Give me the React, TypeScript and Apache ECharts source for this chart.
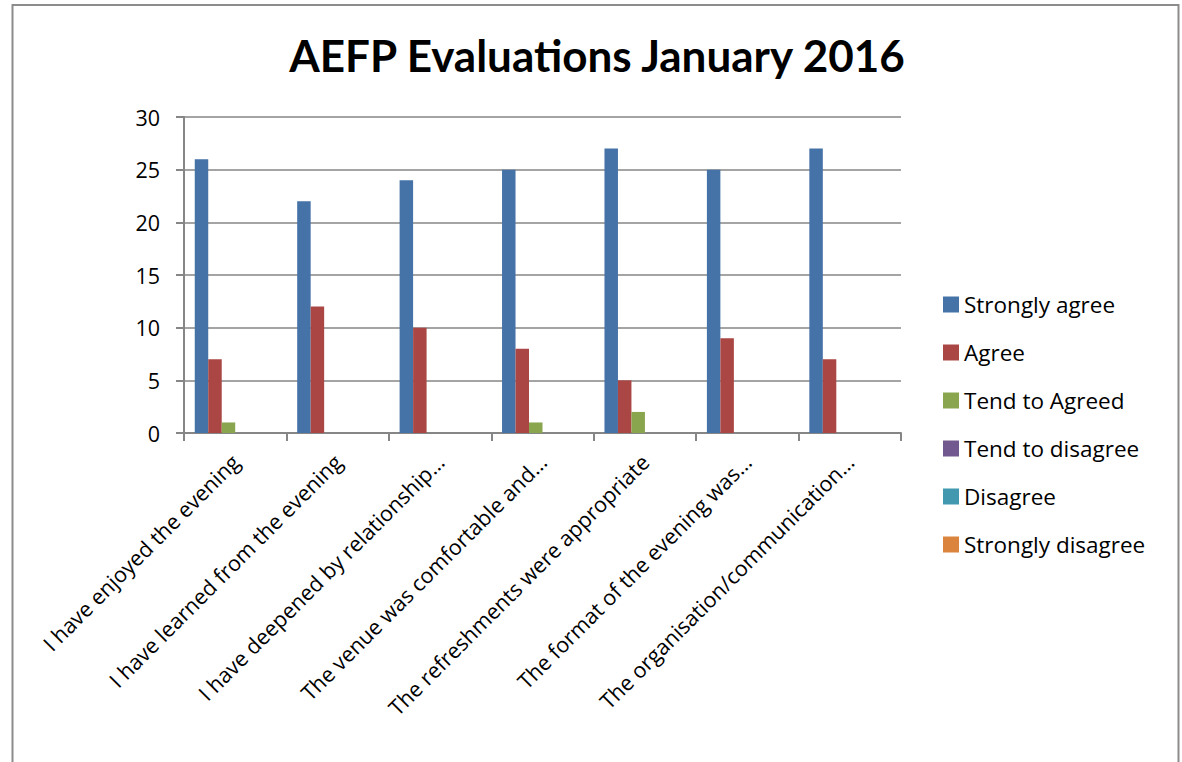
import React, { useEffect, useRef } from "react";
import * as echarts from "echarts";

const categories = [
  "I have enjoyed the evening",
  "I have learned from the evening",
  "I have deepened by relationship…",
  "The venue was comfortable and…",
  "The refreshments were appropriate",
  "The format of the evening was…",
  "The organisation/communication…",
];

const seriesNames = [
  "Strongly agree",
  "Agree",
  "Tend to Agreed",
  "Tend to disagree",
  "Disagree",
  "Strongly disagree",
];

const stronglyAgree = [26, 22, 24, 25, 27, 25, 27];
const agree = [7, 12, 10, 8, 5, 9, 7];
const tendToAgree = [1, 0, 0, 1, 2, 0, 0];
const tendToDisagree = [0, 0, 0, 0, 0, 0, 0];
const disagree = [0, 0, 0, 0, 0, 0, 0];
const stronglyDisagree = [0, 0, 0, 0, 0, 0, 0];

const seriesValues = [stronglyAgree, agree, tendToAgree, tendToDisagree, disagree, stronglyDisagree];
const colors = ["#4572A7", "#AA4643", "#89A54E", "#71588F", "#4198AF", "#DB843D"];

const FONT = "Open Sans";

export default function App() {
  const ref = useRef<HTMLDivElement>(null);
  useEffect(() => {
    if (!ref.current) return;
    const chart = echarts.init(ref.current, undefined, { renderer: "svg" });
    chart.setOption({
      animation: false,
      backgroundColor: "#ffffff",
      title: {
        text: "AEFP Evaluations January 2016",
        left: 592,
        textAlign: "center",
        top: 28,
        textStyle: { fontFamily: "Lato", fontWeight: "bold", fontSize: 44, color: "#000" },
      },
      graphic: [
        {
          type: "rect",
          shape: { x: 12.5, y: 5, width: 1166, height: 820 },
          style: { fill: "none", stroke: "#8c8c8c", lineWidth: 2 },
          silent: true,
        },
      ],
      legend: {
        orient: "vertical",
        left: 943,
        top: 293,
        padding: 0,
        itemWidth: 16,
        itemHeight: 16,
        itemGap: 25,
        icon: "rect",
        textStyle: { fontFamily: FONT, fontSize: 22.5, color: "#000", lineHeight: 20 },
        data: seriesNames,
      },
      grid: { left: 184, right: 281, top: 117, bottom: 329, containLabel: false },
      xAxis: {
        type: "category",
        data: categories,
        axisLine: { show: true, lineStyle: { color: "#868686", width: 2 } },
        axisTick: { show: true, length: 8, lineStyle: { color: "#868686", width: 2 } },
        axisLabel: {
          rotate: 45,
          interval: 0,
          margin: 25,
          fontFamily: FONT,
          fontSize: 21.5,
          color: "#000",
        },
      },
      yAxis: {
        type: "value",
        min: 0,
        max: 30,
        interval: 5,
        axisLine: { show: true, lineStyle: { color: "#868686", width: 2 } },
        axisTick: { show: true, length: 8, lineStyle: { color: "#868686", width: 2 } },
        splitLine: { show: true, lineStyle: { color: "#868686", width: 1.5 } },
        axisLabel: { margin: 24, fontFamily: FONT, fontSize: 21.5, color: "#000" },
      },
      series: seriesNames.map((name, i) => ({
        name,
        type: "bar",
        data: seriesValues[i],
        barGap: "0%",
        barCategoryGap: "21%",
        itemStyle: { color: colors[i] },
      })),
    });
    return () => chart.dispose();
  }, []);
  return (
    <div
      ref={ref}
      style={{ position: "fixed", left: 0, top: 0, width: 1182, height: 762, background: "#fff" }}
    />
  );
}
